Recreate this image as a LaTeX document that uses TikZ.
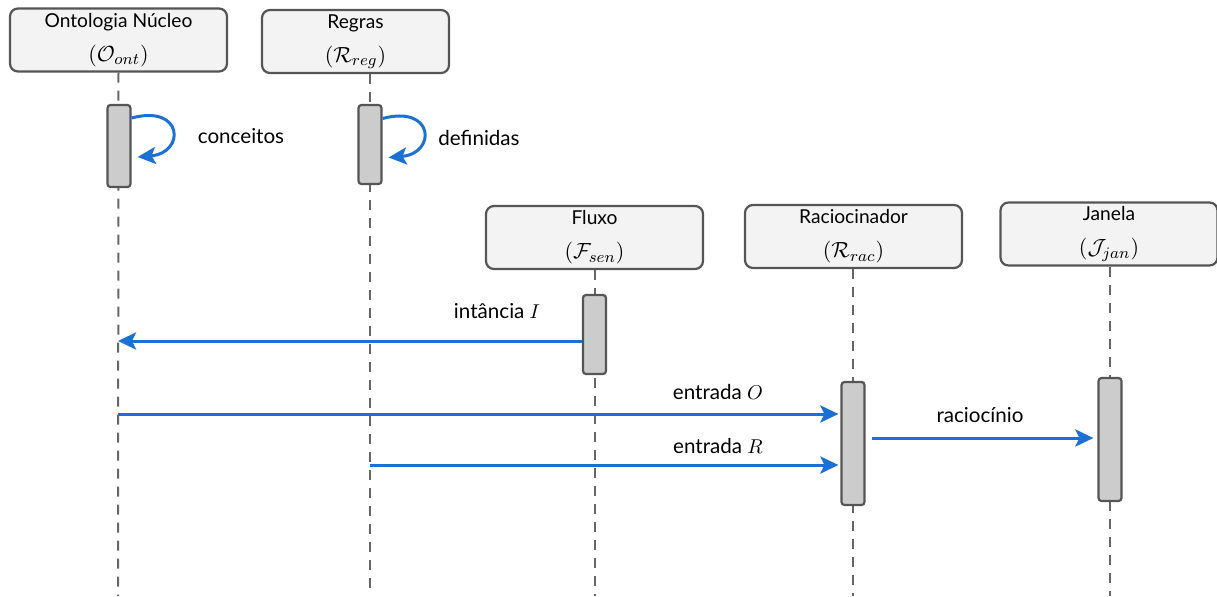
\documentclass[tikz,border=0pt]{standalone}
\usepackage{fontspec}
\setmainfont{Lato}
\usetikzlibrary{arrows.meta}
\definecolor{msgblue}{RGB}{28,112,212}
\definecolor{boxfill}{RGB}{243,243,243}
\definecolor{barfill}{RGB}{204,204,204}
\definecolor{edge}{RGB}{85,85,85}
\newcommand{\mathline}[1]{{\fontsize{10.8}{12}\selectfont$(#1)$}}
\begin{document}
\begin{tikzpicture}[x=0.5pt,y=-0.5pt,
  actor/.style={draw=edge, line width=1.1pt, fill=boxfill, rounded corners=4pt,
    minimum width=108.5pt, minimum height=31.5pt, align=center, inner sep=0pt,
    font=\fontsize{9.6}{17}\selectfont},
  actbar/.style={draw=edge, line width=1.1pt, fill=barfill, rounded corners=1.5pt,
    minimum width=11.5pt, inner sep=0pt},
  lifeline/.style={draw=edge!90, line width=1pt, dash pattern=on 5pt off 4pt},
  msg/.style={draw=msgblue, line width=1.5pt, -{Stealth[length=9pt,width=8.5pt,inset=2pt]}},
  lbl/.style={font=\fontsize{10.3}{12}\selectfont, inner sep=1pt}]
\useasboundingbox (0,0) rectangle (1217,596);

% participants
\node[actor] (onto) at (118.5,40) {Ontologia Núcleo\\\mathline{\mathcal{O}_{ont}}};
\node[actor, minimum width=93.5pt] (regras) at (355.5,41.5) {Regras\\\mathline{\mathcal{R}_{reg}}};
\node[actor] (fluxo) at (594.5,237.5) {Fluxo\\\mathline{\mathcal{F}_{sen}}};
\node[actor] (rac) at (853.5,236.5) {Raciocinador\\\mathline{\mathcal{R}_{rac}}};
\node[actor] (jan) at (1109,234) {Janela\\\mathline{\mathcal{J}_{jan}}};

% lifeline ends
\coordinate (ontoEnd) at (118,596);
\coordinate (regEnd) at (370,596);
\coordinate (fluxEnd) at (594.5,596);
\coordinate (racEnd) at (853,596);
\coordinate (janEnd) at (1110,596);

\draw[lifeline] (onto.south) -- (ontoEnd);
\draw[lifeline] (regras.south -| regEnd) -- (regEnd);
\draw[lifeline] (fluxo.south) -- (fluxEnd);
\draw[lifeline] (rac.south -| racEnd) -- (racEnd);
\draw[lifeline] (jan.south -| janEnd) -- (janEnd);

% activation bars
\node[actbar, minimum height=41pt] (ontobar) at (119,146) {};
\node[actbar, minimum height=39.5pt] (regbar) at (370,144.5) {};
\node[actbar, minimum height=39.5pt] (fluxbar) at (594.5,334.5) {};
\node[actbar, minimum height=61.5pt] (racbar) at (853,443.5) {};
\node[actbar, minimum height=61.5pt] (janbar) at (1110,439.5) {};

% self messages
\draw[msg] ([yshift=14pt]ontobar.east) .. controls +(52,-14) and +(48,-4) .. ([xshift=3pt,yshift=-5.5pt]ontobar.east);
\node[lbl] (lconc) at (241,136) {conceitos};
\draw[msg] ([yshift=13pt]regbar.east) .. controls +(52,-14) and +(48,-4) .. ([xshift=3pt,yshift=-6.5pt]regbar.east);
\node[lbl] (ldef) at (479,138) {definidas};

% messages between lifelines
\coordinate (iEnd) at (118,341);
\draw[msg] (fluxbar.west |- iEnd) -- (iEnd);
\node[lbl] (li) at (497,311) {intância $I$};

\coordinate (oStart) at (118,414);
\draw[msg] (oStart) -- ([xshift=-1pt]racbar.west |- oStart);
\node[lbl] (lo) at (718,392) {entrada $O$};

\coordinate (rStart) at (370,465);
\draw[msg] (rStart) -- ([xshift=-1pt]racbar.west |- rStart);
\node[lbl] (lr) at (718,446) {entrada $R$};

\coordinate (raStart) at (872,438);
\draw[msg] (raStart) -- ([xshift=-2pt]janbar.west |- raStart);
\node[lbl] (lra) at (980,415) {raciocínio};
\end{tikzpicture}
\end{document}
